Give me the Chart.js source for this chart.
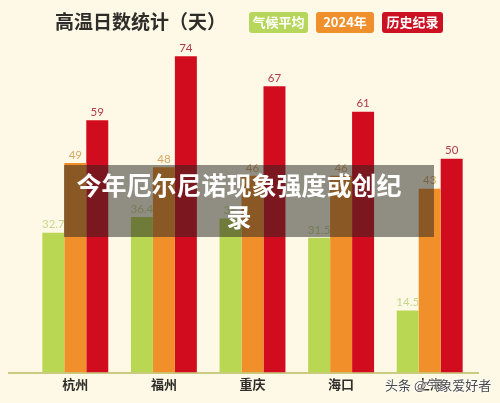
<!DOCTYPE html>
<html>
<head>
<meta charset="utf-8">
<script src="https://cdn.jsdelivr.net/npm/chart.js@4.4.1/dist/chart.umd.min.js"></script>
<style>
  html, body { margin: 0; padding: 0; background: #fdf9e6; }
  #wrap { position: relative; width: 500px; height: 403px; overflow: hidden; background: #fdf9e6; }
  #c { position: absolute; left: 0; top: 0; }
  #banner {
    position: absolute; left: 64px; top: 165px; width: 370px; height: 72px;
    background: rgba(35, 33, 30, 0.5);
  }
  #banner div {
    position: absolute; left: 2px; width: 346px; top: 3px;
    text-align: center; color: #fff; font: bold 25px "Noto Sans CJK SC", sans-serif;
    line-height: 32px; letter-spacing: 0px;
  }
  #wm {
    position: absolute; left: 385px; top: 375px; color: #4a4a4a;
    font: 13px "Noto Sans CJK SC", sans-serif; white-space: nowrap;
    text-shadow: 0 0 2px #fff, 0 0 3px #fff, 0 0 3px #fff;
  }
</style>
</head>
<body>
<div id="wrap">
  <canvas id="c" width="500" height="403"></canvas>
  <div id="banner"><div id="bannerText"></div></div>
  <div id="wm"></div>
</div>
<script>
const titleText = "高温日数统计（天）";
const categories = ["杭州", "福州", "重庆", "海口", "上海"];
const seriesNames = ["气候平均", "2024年", "历史纪录"];
const climateAvg = [32.7, 36.4, 36, 31.5, 14.5];
const year2024 = [49, 48, 46, 46, 43];
const historyRecord = [59, 74, 67, 61, 50];
const bannerText = "今年厄尔尼诺现象强度或创纪录";
const watermarkText = "头条 @气象爱好者";

document.getElementById('bannerText').textContent = bannerText;
document.getElementById('wm').textContent = watermarkText;

const barColors = ["#bad754", "#f18f2b", "#d20c1f"];
const legendColors = ["#b7d65c", "#f0902c", "#cc1222"];
const labelColors = ["#c6d98e", "#d5a765", "#b23a47"];

const valueLabels = {
  id: 'valueLabels',
  afterDatasetsDraw(chart) {
    const ctx = chart.ctx;
    ctx.save();
    ctx.font = '11.5px Lato, "Open Sans", sans-serif';
    ctx.textAlign = 'center';
    ctx.textBaseline = 'middle';
    chart.data.datasets.forEach((ds, i) => {
      const meta = chart.getDatasetMeta(i);
      ctx.fillStyle = labelColors[i];
      meta.data.forEach((bar, j) => {
        ctx.fillText(String(ds.data[j]), bar.x, bar.y - 8);
      });
    });
    ctx.restore();
  }
};

const baseline = {
  id: 'baseline',
  beforeDatasetsDraw(chart) {
    const ctx = chart.ctx;
    const y = chart.scales.y.getPixelForValue(0);
    ctx.save();
    ctx.strokeStyle = '#b9ba5e';
    ctx.lineWidth = 1.5;
    ctx.beginPath();
    ctx.moveTo(8, y + 0.5);
    ctx.lineTo(479, y + 0.5);
    ctx.stroke();
    ctx.restore();
  }
};

function roundRect(ctx, x, y, w, h, r) {
  ctx.beginPath();
  ctx.moveTo(x + r, y);
  ctx.lineTo(x + w - r, y);
  ctx.quadraticCurveTo(x + w, y, x + w, y + r);
  ctx.lineTo(x + w, y + h - r);
  ctx.quadraticCurveTo(x + w, y + h, x + w - r, y + h);
  ctx.lineTo(x + r, y + h);
  ctx.quadraticCurveTo(x, y + h, x, y + h - r);
  ctx.lineTo(x, y + r);
  ctx.quadraticCurveTo(x, y, x + r, y);
  ctx.closePath();
}

const header = {
  id: 'header',
  afterDraw(chart) {
    const ctx = chart.ctx;
    ctx.save();
    ctx.fillStyle = '#2f2d2a';
    ctx.font = 'bold 19px "Noto Sans CJK SC", sans-serif';
    ctx.textAlign = 'left';
    ctx.textBaseline = 'middle';
    ctx.fillText(titleText, 55, 22);
    const boxes = [[249, 59], [316, 58], [382, 61]];
    ctx.font = 'bold 13px "Noto Sans CJK SC", sans-serif';
    ctx.textAlign = 'center';
    chart.data.datasets.forEach((ds, i) => {
      const [bx, bw] = boxes[i];
      ctx.fillStyle = legendColors[i];
      roundRect(ctx, bx, 12, bw, 21, 3);
      ctx.fill();
      ctx.fillStyle = '#ffffff';
      ctx.fillText(ds.label, bx + bw / 2, 22.5);
    });
    ctx.restore();
  }
};

new Chart(document.getElementById('c'), {
  type: 'bar',
  data: {
    labels: categories,
    datasets: [
      { label: seriesNames[0], data: climateAvg, backgroundColor: barColors[0] },
      { label: seriesNames[1], data: year2024, backgroundColor: barColors[1] },
      { label: seriesNames[2], data: historyRecord, backgroundColor: barColors[2] }
    ]
  },
  options: {
    responsive: false,
    animation: false,
    devicePixelRatio: 1,
    layout: { padding: { left: 31, right: 26, top: 30.6, bottom: 7 } },
    datasets: { bar: { categoryPercentage: 0.744, barPercentage: 1.0, borderWidth: 0 } },
    plugins: {
      legend: { display: false },
      title: { display: false },
      tooltip: { enabled: false }
    },
    scales: {
      x: {
        grid: { display: false, drawTicks: false },
        border: { display: false },
        ticks: {
          padding: 4,
          color: '#2f2d2a',
          font: { family: '"Noto Sans CJK SC", sans-serif', size: 13, weight: 'bold' }
        }
      },
      y: {
        display: false,
        min: 0,
        max: 80
      }
    }
  },
  plugins: [baseline, valueLabels, header]
});
</script>
</body>
</html>
